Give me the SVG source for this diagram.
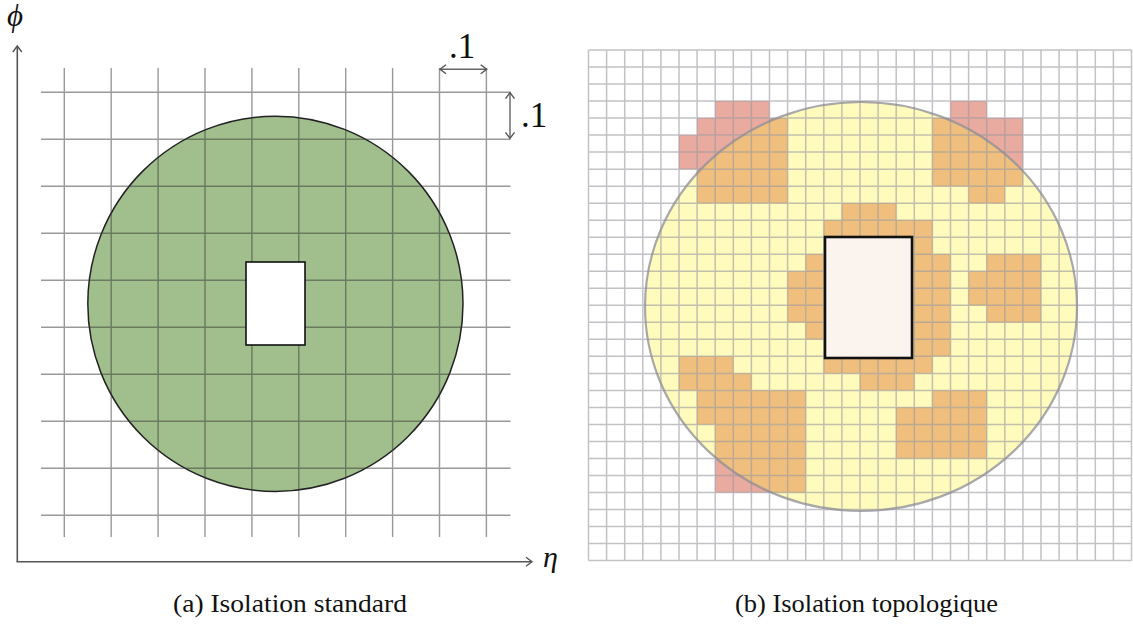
<svg xmlns="http://www.w3.org/2000/svg" xmlns:xlink="http://www.w3.org/1999/xlink" width="1133" height="626" viewBox="0 0 1133 626">
<style>
.serif{font-family:"Liberation Serif","DejaVu Serif",serif;fill:#111}
.math{font-family:"Liberation Serif","DejaVu Serif",serif;font-style:italic;fill:#111}
.gridA{fill:none;stroke:#333;stroke-opacity:0.5;stroke-width:1.4}
.gridB{fill:none;stroke:#9a9aa0;stroke-opacity:0.6;stroke-width:1.5}
.axis{fill:none;stroke:#555;stroke-width:1.6}
.dim{fill:none;stroke:#666;stroke-width:1.4}
</style>
<defs>
<marker id="oa" viewBox="-8 -6 10 12" markerWidth="10" markerHeight="12" refX="0" refY="0" orient="auto-start-reverse" markerUnits="userSpaceOnUse">
<path d="M-6,-4.5 L0,0 L-6,4.5" fill="none" stroke="#555" stroke-width="1.4"/>
</marker>
<clipPath id="ellClip"><ellipse cx="861" cy="306.5" rx="216" ry="204.5"/></clipPath>
<g id="hl">
<rect x="715.2" y="101.06" width="54.3" height="17.02"/>
<rect x="697.1" y="118.08" width="90.5" height="17.02"/>
<rect x="679" y="135.1" width="108.6" height="34.04"/>
<rect x="697.1" y="169.14" width="90.5" height="34.04"/>
<rect x="950.5" y="101.06" width="36.2" height="17.02"/>
<rect x="932.4" y="118.08" width="90.5" height="68.08"/>
<rect x="968.6" y="186.16" width="36.2" height="17.02"/>
<rect x="841.9" y="203.18" width="54.3" height="17.02"/>
<rect x="823.8" y="220.2" width="108.6" height="17.02"/>
<rect x="823.8" y="237.22" width="90.5" height="119.14"/>
<rect x="914.3" y="237.22" width="18.1" height="136.16"/>
<rect x="932.4" y="254.24" width="18.1" height="102.12"/>
<rect x="805.7" y="254.24" width="18.1" height="85.1"/>
<rect x="787.6" y="271.26" width="18.1" height="51.06"/>
<rect x="823.8" y="356.36" width="90.5" height="17.02"/>
<rect x="860" y="373.38" width="54.3" height="17.02"/>
<rect x="986.7" y="254.24" width="54.3" height="68.08"/>
<rect x="968.6" y="271.26" width="18.1" height="34.04"/>
<rect x="679" y="356.36" width="54.3" height="17.02"/>
<rect x="679" y="373.38" width="72.4" height="17.02"/>
<rect x="697.1" y="390.4" width="108.6" height="34.04"/>
<rect x="715.2" y="424.44" width="90.5" height="68.08"/>
<rect x="932.4" y="390.4" width="54.3" height="17.02"/>
<rect x="896.2" y="407.42" width="90.5" height="51.06"/>
</g>
</defs>
<rect width="1133" height="626" fill="#ffffff"/>

<!-- Panel (a) -->
<g id="panelA">
<circle id="isoCone" cx="275.4" cy="303.8" r="187.6" fill="#a0bf8d" stroke="#222" stroke-width="1.5"/>
<path id="gridA" class="gridA" d="M64.3,68V537M111.2,68V537M158.1,68V537M205,68V537M251.9,68V537M298.8,68V537M345.7,68V537M392.6,68V537M439.5,68V537M486.4,68V537M41,92.3H510.5M41,139.3H510.5M41,186.3H510.5M41,233.3H510.5M41,280.3H510.5M41,327.3H510.5M41,374.3H510.5M41,421.3H510.5M41,468.3H510.5M41,515.3H510.5"/>
<rect id="coreA" x="246" y="262" width="59" height="83" fill="#ffffff" stroke="#111" stroke-width="1.6"/>
<g id="connectors">
<path class="axis" d="M17.3,561.7V46" marker-end="url(#oa)"/>
<path class="axis" d="M16.5,561.7H532" marker-end="url(#oa)"/>
<path class="dim" d="M440,69.3H486.7" marker-start="url(#oa)" marker-end="url(#oa)"/>
<path class="dim" d="M510,92.7V138.3" marker-start="url(#oa)" marker-end="url(#oa)"/>
</g>
<text class="math" x="7" y="26" font-size="31">ϕ</text>
<text class="math" x="543" y="567" font-size="30">η</text>
<text class="serif" x="449" y="58.3" font-size="35">.1</text>
<text class="serif" x="521" y="127.3" font-size="35">.1</text>
<text class="serif" x="290" y="612" font-size="25" text-anchor="middle" textLength="234" lengthAdjust="spacingAndGlyphs">(a) Isolation standard</text>
</g>

<!-- Panel (b) -->
<g id="panelB">
<use xlink:href="#hl" href="#hl" fill="#e9aa9f"/>
<ellipse id="yellowCone" cx="861" cy="306.5" rx="216" ry="204.5" fill="#fffbbd"/>
<use xlink:href="#hl" href="#hl" fill="#f0bf7e" clip-path="url(#ellClip)"/>
<path id="gridB" class="gridB" d="M588.5,50V560.6M606.6,50V560.6M624.7,50V560.6M642.8,50V560.6M660.9,50V560.6M679,50V560.6M697.1,50V560.6M715.2,50V560.6M733.3,50V560.6M751.4,50V560.6M769.5,50V560.6M787.6,50V560.6M805.7,50V560.6M823.8,50V560.6M841.9,50V560.6M860,50V560.6M878.1,50V560.6M896.2,50V560.6M914.3,50V560.6M932.4,50V560.6M950.5,50V560.6M968.6,50V560.6M986.7,50V560.6M1004.8,50V560.6M1022.9,50V560.6M1041,50V560.6M1059.1,50V560.6M1077.2,50V560.6M1095.3,50V560.6M1113.4,50V560.6M1131.5,50V560.6M588.5,50H1131.5M588.5,67.02H1131.5M588.5,84.04H1131.5M588.5,101.06H1131.5M588.5,118.08H1131.5M588.5,135.1H1131.5M588.5,152.12H1131.5M588.5,169.14H1131.5M588.5,186.16H1131.5M588.5,203.18H1131.5M588.5,220.2H1131.5M588.5,237.22H1131.5M588.5,254.24H1131.5M588.5,271.26H1131.5M588.5,288.28H1131.5M588.5,305.3H1131.5M588.5,322.32H1131.5M588.5,339.34H1131.5M588.5,356.36H1131.5M588.5,373.38H1131.5M588.5,390.4H1131.5M588.5,407.42H1131.5M588.5,424.44H1131.5M588.5,441.46H1131.5M588.5,458.48H1131.5M588.5,475.5H1131.5M588.5,492.52H1131.5M588.5,509.54H1131.5M588.5,526.56H1131.5M588.5,543.58H1131.5M588.5,560.6H1131.5"/>
<ellipse cx="861" cy="306.5" rx="216" ry="204.5" fill="none" stroke="#8c8c96" stroke-opacity="0.75" stroke-width="2.2"/>
<rect id="coreB" x="825" y="237" width="87" height="121" fill="#fbf4ee" stroke="#111" stroke-width="2.6"/>
<text class="serif" x="866.5" y="612" font-size="25" text-anchor="middle" textLength="263" lengthAdjust="spacingAndGlyphs">(b) Isolation topologique</text>
</g>
</svg>
